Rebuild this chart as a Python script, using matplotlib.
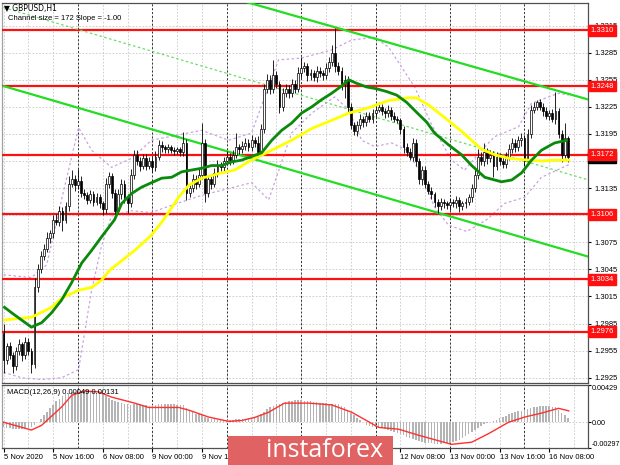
import numpy as np
import matplotlib
matplotlib.use('Agg')
import matplotlib.pyplot as plt
import matplotlib.transforms as mtrans
from matplotlib.patches import Rectangle

# ---- data (prices in pips, 1.2945 -> 12945) ----
first_open = 12975
closes = [12945, 12960, 12950, 12938, 12955, 12962, 12950, 12965, 12955, 12940,
          13025, 13045, 13060, 13068, 13080, 13085, 13100, 13098, 13110, 13100,
          13115, 13140, 13145, 13138, 13143, 13130, 13127, 13122, 13128, 13120,
          13125, 13118, 13112, 13140, 13148, 13130, 13110, 13128, 13140, 13125,
          13118, 13150, 13172, 13165, 13160, 13168, 13160, 13165, 13158, 13170,
          13183, 13180, 13178, 13180, 13177, 13176, 13178, 13175, 13185, 13130,
          13135, 13145, 13140, 13150, 13185, 13130, 13145, 13140, 13152, 13160,
          13158, 13165, 13170, 13166, 13172, 13180, 13178, 13182, 13185, 13180,
          13188, 13185, 13175, 13200, 13245, 13255, 13245, 13260, 13250, 13225,
          13240, 13245, 13240, 13250, 13245, 13262, 13268, 13270, 13260, 13262,
          13258, 13265, 13262, 13260, 13268, 13275, 13285, 13270, 13265, 13250,
          13255, 13225, 13205, 13198, 13205, 13212, 13208, 13215, 13212, 13218,
          13222, 13225, 13220, 13218, 13222, 13215, 13212, 13210, 13200, 13180,
          13175, 13170, 13185, 13165, 13145, 13155, 13140, 13132, 13128, 13120,
          13115, 13120, 13118, 13116, 13120, 13118, 13122, 13115, 13118, 13120,
          13125, 13135, 13150, 13170, 13165, 13175, 13168, 13172, 13160, 13170,
          13165, 13162, 13170, 13178, 13185, 13180, 13188, 13190, 13165, 13195,
          13222, 13225, 13230, 13225, 13220, 13215, 13218, 13212, 13220, 13195,
          13172, 13190, 13169]
up_wick = [10, 4, 5, 3, 4, 6, 3, 5, 4, 3,
           10, 6, 5, 5, 6, 4, 5, 6, 5, 4,
           5, 8, 10, 4, 13, 5, 4, 4, 5, 4,
           5, 4, 3, 6, 5, 4, 4, 6, 5, 4,
           3, 6, 5, 5, 4, 5, 5, 4, 4, 6,
           5, 4, 3, 4, 3, 4, 3, 3, 12, 4,
           5, 6, 4, 6, 22, 4, 5, 4, 5, 6,
           4, 5, 6, 4, 5, 16, 4, 5, 6, 4,
           6, 4, 8, 6, 5, 6, 5, 17, 5, 4,
           6, 5, 4, 6, 5, 7, 12, 5, 4, 5,
           4, 5, 4, 4, 6, 5, 8, 27, 5, 4,
           5, 4, 4, 3, 4, 5, 3, 4, 4, 5,
           4, 5, 3, 4, 5, 3, 4, 3, 3, 4,
           5, 4, 6, 4, 3, 5, 4, 3, 4, 3,
           3, 4, 3, 3, 4, 3, 4, 3, 3, 4,
           4, 5, 6, 8, 5, 10, 4, 5, 4, 5,
           4, 4, 5, 6, 5, 4, 5, 6, 4, 6,
           5, 5, 3, 4, 4, 5, 4, 5, 21, 4,
           4, 17, 3]
dn_wick = [15, 5, 4, 8, 4, 5, 6, 4, 5, 10,
           4, 5, 4, 5, 4, 6, 5, 4, 5, 12,
           4, 5, 4, 6, 4, 5, 4, 5, 4, 5,
           4, 5, 7, 4, 5, 6, 7, 4, 5, 6,
           10, 4, 5, 4, 6, 4, 5, 4, 5, 4,
           4, 5, 4, 4, 3, 4, 3, 4, 4, 8,
           5, 4, 6, 4, 5, 10, 5, 6, 4, 5,
           4, 5, 4, 5, 4, 4, 5, 4, 5, 4,
           4, 5, 5, 4, 4, 5, 6, 5, 4, 7,
           5, 4, 5, 4, 5, 4, 5, 4, 6, 5,
           4, 5, 4, 5, 4, 4, 5, 6, 5, 6,
           15, 6, 5, 4, 5, 4, 5, 4, 4, 5,
           4, 3, 4, 5, 4, 5, 4, 3, 5, 6,
           4, 4, 5, 6, 5, 6, 5, 4, 5, 6,
           8, 4, 5, 4, 5, 4, 5, 6, 4, 5,
           4, 5, 4, 5, 4, 5, 6, 4, 13, 5,
           4, 5, 5, 4, 4, 5, 4, 6, 5, 4,
           5, 4, 4, 4, 5, 4, 5, 4, 6, 5,
           8, 4, 5]

# moving averages (bar index, pips)
green_bars = [0.3, 2.6, 5.8, 9, 12.3, 15.5, 18.7, 21.9, 25.2, 28.4, 31.6, 35.8, 38.1, 41.3,
              44.5, 47.7, 51, 54.2, 57.4, 60.6, 63.9, 67.1, 70.3, 73.5, 76.8, 80, 83.2, 86.5,
              89.7, 92.9, 96.1, 99.4, 102.6, 105.8, 109, 111.3, 113.9, 117.1, 120.3, 123.5,
              126.8, 130, 133.2, 136.5, 139, 143.5, 147.7, 151, 155.2, 160.6, 163.9, 167.1,
              170.3, 173.5, 177.7, 181.6]
green_vals = [13003, 12997, 12989, 12981, 12986, 12997, 13011, 13030, 13052, 13066, 13081,
              13100, 13118, 13129, 13136, 13141, 13146, 13147, 13153, 13155, 13157, 13160,
              13160, 13164, 13166, 13170, 13174, 13188, 13199, 13207, 13218, 13225, 13233,
              13240, 13248, 13255, 13251, 13247, 13245, 13242, 13238, 13230, 13219, 13208,
              13196, 13183, 13172, 13160, 13147, 13142, 13144, 13152, 13166, 13177, 13185, 13188]
yellow_bars = [0.3, 9, 15.5, 18.7, 24.2, 28.4, 31.6, 34.2, 42.3, 47.7, 51.6, 56.5, 59.7, 63.9,
               69.4, 74.5, 80, 86.5, 92.9, 99.4, 105.8, 111.3, 117.7, 124.2, 130.6, 133.2,
               137.1, 142.3, 147.7, 154.2, 158.4, 162.9, 169.4, 173.5, 177.7, 182.3]
yellow_vals = [12989, 12992, 13003, 13013, 13022, 13025, 13033, 13044, 13066, 13083, 13100,
               13125, 13138, 13146, 13151, 13155, 13166, 13177, 13188, 13201, 13210, 13218,
               13224, 13232, 13235, 13235, 13227, 13213, 13198, 13178, 13172, 13168, 13166,
               13165, 13166, 13166]
bb_up_bars = [0, 9, 13.9, 18.7, 24.2, 28.4, 34.8, 41.3, 47.7, 63.9, 72.6, 80, 83.9, 88.7, 96.1,
              105.8, 112.3, 119.7, 124.2, 128.4, 132.6, 138.1, 144.5, 148.7, 154.2, 158.4,
              166.1, 170.3, 175.8, 179, 182.3]
bb_up_vals = [13039, 13036, 13050, 13122, 13202, 13177, 13158, 13168, 13188, 13199, 13188,
              13196, 13233, 13277, 13279, 13288, 13299, 13302, 13291, 13269, 13247, 13205,
              13166, 13155, 13177, 13192, 13203, 13229, 13236, 13240, 13238]
bb_lo_bars = [0, 5.8, 12.3, 18.7, 24.2, 28.4, 31.6, 34.8, 41.3, 47.7, 54.2, 63.9, 80, 85.5,
              92.9, 99.4, 106.8, 111.3, 115.5, 119.7, 125.2, 130, 134.8, 139, 143.5, 149.4,
              155.8, 161.6, 168.1, 173.5, 182.3]
bb_lo_vals = [12931, 12925, 12923, 12925, 12934, 13022, 13071, 13104, 13110, 13108, 13116,
              13127, 13141, 13122, 13196, 13218, 13236, 13222, 13188, 13181, 13185, 13177,
              13150, 13114, 13094, 13087, 13100, 13118, 13125, 13147, 13161]

# trend channel (bar, pips) end points
chan_upper = ([78.4, 188.7], [13341, 13233])
chan_lower = ([0, 188.7], [13248, 13059])
chan_mid = ([0, 188.7], [13335, 13144])

levels = [13310, 13248, 13172, 13106, 13034, 12976]
current_price = 13169

# MACD main (histogram) in 1e-5
macd_hist = [-60, -65, -70, -75, -75, -80, -80, -75, -70, -60,
             -30, 0, 40,
             80, 120, 160, 200, 240,
             270, 300, 320, 335, 345, 350,
             355, 360, 360, 355, 350, 345, 340, 335,
             320, 300, 280, 260, 245,
             230, 220, 215, 205, 200, 205, 210, 205, 200, 195, 190,
             195, 200, 210, 215, 215, 210, 210, 205, 200, 195, 195,
             160, 140, 120, 100, 90, 80,
             60, 50, 40, 35, 30, 30, 25, 25,
             25, 30, 35, 35, 40, 40, 45, 50, 50, 60,
             90, 120, 150, 170, 190, 210, 215, 225, 235, 245,
             250, 255, 255, 255, 250, 245, 240,
             235, 230, 225, 220, 220, 215, 215, 210, 205, 190, 170,
             140, 110, 80, 50, 20, 0,
             -30, -45, -55, -60, -65, -70, -80, -90,
             -100, -110, -120, -130, -150, -165, -180,
             -190, -200, -215, -225, -235, -240, -245, -250, -250, -250,
             -245, -240, -235, -225, -215, -200, -180,
             -160, -140, -115, -90, -65, -45, -25, -10,
             0, 15, 30, 45, 60, 75, 90,
             105, 115, 125, 135, 140, 150, 160, 170, 180,
             185, 190, 190, 185, 180, 170,
             140, 110, 80, 49]
sig_bars = [0, 9, 12.3, 18.7, 22, 26.1, 30.6, 34.8, 42.3, 46.8, 56.5, 59.7, 66.1, 72.6, 76.8,
            81, 85.5, 90.6, 98.4, 105.8, 112.3, 121, 127.4, 133.9, 144.5, 151, 156.5, 162.9,
            168.1, 173.5, 179, 182.3]
sig_vals = [0, -90, -35, 175, 310, 360, 350, 290, 220, 170, 170, 140, 60, 10, 20, 55, 115,
            220, 220, 200, 115, -60, -80, -150, -255, -230, -130, 0, 60, 105, 160, 131]

# time labels (the ones under the logo box are not visible in the original)
x_tick_bars = [0, 16, 32, 48, 64, 128, 144, 160, 176]
x_tick_labels = ['5 Nov 2020', '5 Nov 16:00', '6 Nov 08:00', '9 Nov 00:00', '9 Nov 16:00',
                 '12 Nov 08:00', '13 Nov 00:00', '13 Nov 16:00', '16 Nov 08:00']

assert len(closes) == len(up_wick) == len(dn_wick) == len(macd_hist)

# ---- figure ----
plt.rcParams['font.family'] = ['Liberation Sans', 'DejaVu Sans']
W, H = 620, 465
fig = plt.figure(figsize=(6.2, 4.65), dpi=100)

def fx(px):
    return px / W

def fy(py):
    return 1 - py / H

ax = fig.add_axes([fx(2), fy(383), fx(588) - fx(2), fy(3) - fy(383)])
ax2 = fig.add_axes([fx(2), fy(448), fx(588) - fx(2), fy(385) - fy(448)])

P = 1e-4
c = np.array(closes) * P
o = np.concatenate([[first_open * P], c[:-1]])
hi = np.maximum(o, c) + np.array(up_wick) * P
lo = np.minimum(o, c) - np.array(dn_wick) * P
idx = np.arange(len(c))

for a in (ax, ax2):
    a.set_xlim(-0.5, 188.5)
    for b in range(0, 189, 8):
        a.axvline(b, color='#c8c8c8', lw=0.6, ls=(0, (2, 2)), zorder=0)
    for b in range(24, 189, 24):
        a.axvline(b, color='#303030', lw=0.7, ls=(0, (2, 2)), zorder=1)
    for s in a.spines.values():
        s.set_color('#505050')
        s.set_linewidth(0.9)
    a.spines['left'].set_color('#a0a0a0')

ax.set_ylim(1.29192, 1.33400)
yt = np.arange(12925, 13316, 30) * P
ax.set_yticks(yt)
# 1.3105 and 1.3165 sit fully under the level boxes in the original
ax.set_yticklabels(['' if round(v / P) in (13105, 13165) else '%.4f' % v for v in yt])
ax.yaxis.tick_right()
ax.tick_params(axis='y', labelsize=5.5, length=2.5, pad=2, colors='black')
ax.tick_params(axis='x', bottom=False, labelbottom=False)
for v in yt:
    ax.axhline(v, color='#c8c8c8', lw=0.6, ls=(0, (2, 2)), zorder=0)

# bands
ax.plot(bb_up_bars, np.array(bb_up_vals) * P, color='#c9a3e0', lw=0.9, ls=(0, (2, 2)), zorder=2)
ax.plot(bb_lo_bars, np.array(bb_lo_vals) * P, color='#c9a3e0', lw=0.9, ls=(0, (2, 2)), zorder=2)

# support / resistance levels
for lv in levels:
    ax.axhline(lv * P, color='#ff1010', lw=1.6, zorder=3)

# channel
ax.plot(chan_upper[0], np.array(chan_upper[1]) * P, color='#22dd22', lw=1.6, zorder=3)
ax.plot(chan_lower[0], np.array(chan_lower[1]) * P, color='#22dd22', lw=1.6, zorder=3)
ax.plot(chan_mid[0], np.array(chan_mid[1]) * P, color='#66dd66', lw=0.9, ls=(0, (2, 2)), zorder=3)

# candles
ax.vlines(idx, lo, hi, color='black', lw=0.6, zorder=4)
up = c >= o
ax.bar(idx[up], (c - o)[up], bottom=o[up], width=0.6, color='white', edgecolor='black',
       lw=0.5, zorder=5)
ax.bar(idx[~up], (c - o)[~up], bottom=o[~up], width=0.6, color='black', edgecolor='black',
       lw=0.5, zorder=5)

# moving averages
ax.plot(yellow_bars, np.array(yellow_vals) * P, color='#ffff00', lw=2.0, zorder=6)
ax.plot(green_bars, np.array(green_vals) * P, color='#0a8a0a', lw=2.0, zorder=7)

# price labels on the right
tr = mtrans.blended_transform_factory(ax.transAxes, ax.transData)
ax.text(1.004, current_price * P, '%.4f' % (current_price * P), transform=tr, fontsize=5.5,
        color='white', va='center', ha='left', clip_on=False, zorder=20,
        bbox=dict(boxstyle='square,pad=0.25', fc='black', ec='black'))
for lv in levels:
    ax.text(1.004, lv * P, '%.4f' % (lv * P), transform=tr, fontsize=5.5, color='white',
            va='center', ha='left', clip_on=False, zorder=21,
            bbox=dict(boxstyle='square,pad=0.25', fc='#ff1010', ec='#ff1010'))

# MACD panel
ax2.set_ylim(-0.00297, 0.00429)
ax2.bar(idx, np.array(macd_hist) * 1e-5, width=0.5, color='#b4b4b4', zorder=2)
ax2.plot(sig_bars, np.array(sig_vals) * 1e-5, color='#ff3030', lw=1.0, zorder=3)
ax2.axhline(0, color='#c8c8c8', lw=0.6, ls=(0, (2, 2)), zorder=0)
ax2.yaxis.tick_right()
ax2.set_yticks([-0.00297, 0, 0.00429])
ax2.set_yticklabels(['-0.00297', '0.00', '0.00429'])
ax2.tick_params(axis='y', labelsize=5.2, length=2, pad=1)
tl = ax2.get_yticklabels()
tl[0].set_va('bottom')
tl[2].set_va('top')
ax2.set_xticks(x_tick_bars)
ax2.set_xticklabels(x_tick_labels, ha='left')
ax2.tick_params(axis='x', labelsize=5.5, length=3, pad=1.5)
ax2.text(0.008, 0.93, 'MACD(12,26,9) 0.00049 0.00131', transform=ax2.transAxes,
         fontsize=5.5, va='top', ha='left', zorder=10)

# header
fig.text(fx(4), fy(9), '\u25bc GBPUSD,H1', fontsize=5.5, va='center', ha='left',
         family=['DejaVu Sans'])
fig.text(fx(8), fy(18), 'Channel size = 172 Slope = -1.00', fontsize=5.5, va='center', ha='left')

# watermark
fig.patches.append(Rectangle((fx(228), 0), fx(393) - fx(228), 29 / H, transform=fig.transFigure,
                             facecolor='#e06262', edgecolor='none', zorder=10))
fig.text(fx(266), fy(450), 'instaforex', fontsize=18, color='white', va='center', ha='left',
         family=['Open Sans', 'DejaVu Sans'], zorder=11)

fig.savefig('out.png', dpi=100)
